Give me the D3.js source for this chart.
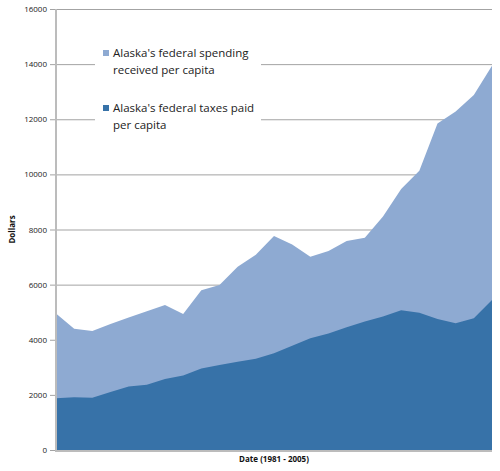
<!DOCTYPE html>
<html lang="en">
<head>
<meta charset="utf-8">
<title>Alaska federal spending vs taxes</title>
<script src="https://cdn.jsdelivr.net/npm/d3@7"></script>
<style>
  body { margin: 0; background: #fff; }
  svg { display: block; font-family: "Open Sans", "Noto Sans", sans-serif; }
  .grid line { stroke: #a3a3a3; stroke-width: 1; }
  .grid .domain { display: none; }
</style>
</head>
<body>
<script>
// years on the x axis (no tick labels in the original)
var years = [1981, 1982, 1983, 1984, 1985, 1986, 1987, 1988, 1989, 1990,
             1991, 1992, 1993, 1994, 1995, 1996, 1997, 1998, 1999, 2000,
             2001, 2002, 2003, 2004, 2005];

// federal spending received per capita
var spending = [4950, 4400, 4320, 4570, 4810, 5030, 5260, 4930, 5800, 5990,
                6650, 7080, 7760, 7460, 7010, 7220, 7580, 7700, 8470, 9470,
                10130, 11850, 12280, 12880, 13940];

// federal taxes paid per capita
var taxes = [1880, 1910, 1900, 2100, 2300, 2370, 2580, 2700, 2960, 3080,
             3200, 3310, 3510, 3780, 4050, 4230, 4450, 4660, 4840, 5070,
             4980, 4750, 4600, 4780, 5440];

var yTicks = [0, 2000, 4000, 6000, 8000, 10000, 12000, 14000, 16000];

var legendLabels = [
  ["Alaska's federal spending", "received per capita"],
  ["Alaska's federal taxes paid", "per capita"]
];
var colors = ["#8eaad2", "#3772a8"];

var w = 500, h = 471;
// plot box (note: "top" is reserved on window, so pX names)
var pLeft = 56, pRight = 492, pTop = 9, pBottom = 450;

var svg = d3.select("body").append("svg")
    .attr("width", w)
    .attr("height", h);

var xScale = d3.scaleLinear()
    .domain([years[0], years[years.length - 1]])
    .range([pLeft, pRight]);

var yScale = d3.scaleLinear()
    .domain([0, 16000])
    .range([pBottom, pTop]);

// gridlines first, the areas cover them
svg.append("g")
    .attr("class", "grid")
    .attr("transform", "translate(" + pLeft + ",0)")
    .call(d3.axisLeft(yScale).tickValues(yTicks).tickSize(-(pRight - pLeft)).tickFormat(""));

var area = function(vals) {
  return d3.area()
      .x(function(d, i) { return xScale(years[i]); })
      .y0(yScale(0))
      .y1(function(d) { return yScale(d); })(vals);
};

svg.append("path").attr("d", area(spending)).attr("fill", colors[0]);
svg.append("path").attr("d", area(taxes)).attr("fill", colors[1]);

// y axis labels + small ticks
var yAxis = svg.append("g")
    .attr("transform", "translate(" + pLeft + ",0)")
    .call(d3.axisLeft(yScale).tickValues(yTicks).tickSize(6).tickPadding(3).tickFormat(d3.format("d")));
yAxis.select(".domain").remove();
yAxis.selectAll(".tick line").attr("stroke", "#a3a3a3");
yAxis.selectAll(".tick text")
    .attr("font-size", "8px")
    .attr("fill", "#222")
    .attr("font-family", "'Open Sans', sans-serif");

// axis lines
svg.append("line")
    .attr("x1", pLeft).attr("x2", pLeft)
    .attr("y1", pTop).attr("y2", pBottom + 1)
    .attr("stroke", "#bcbcbc").attr("stroke-width", 2);
svg.append("line")
    .attr("x1", pLeft - 1).attr("x2", pRight)
    .attr("y1", pBottom + 1).attr("y2", pBottom + 1)
    .attr("stroke", "#bcbcbc").attr("stroke-width", 2);

// axis titles
svg.append("text")
    .attr("x", (pLeft + pRight) / 2)
    .attr("y", 462)
    .attr("text-anchor", "middle")
    .attr("font-size", "8px")
    .attr("font-weight", "bold")
    .attr("fill", "#111")
    .text("Date (1981 - 2005)");

svg.append("text")
    .attr("transform", "translate(15," + ((pTop + pBottom) / 2) + ") rotate(-90)")
    .attr("text-anchor", "middle")
    .attr("font-size", "8px")
    .attr("font-weight", "bold")
    .attr("fill", "#111")
    .text("Dollars");

// legend (white box over the gridlines)
var legend = svg.append("g");
legend.append("rect")
    .attr("x", 95).attr("y", 30)
    .attr("width", 166).attr("height", 110)
    .attr("fill", "#fff");

var entries = legend.selectAll("g.entry")
    .data(legendLabels)
    .enter().append("g")
    .attr("class", "entry")
    .attr("transform", function(d, i) { return "translate(0," + (i * 55) + ")"; });

entries.append("rect")
    .attr("x", 103).attr("y", 50)
    .attr("width", 6).attr("height", 6)
    .attr("fill", function(d, i) { return colors[i]; });

entries.append("text")
    .attr("font-size", "11.5px")
    .attr("fill", "#222")
    .selectAll("tspan")
    .data(function(d) { return d; })
    .enter().append("tspan")
    .attr("x", 113)
    .attr("y", function(d, j) { return 57 + j * 17; })
    .text(function(d) { return d; });
</script>
</body>
</html>
